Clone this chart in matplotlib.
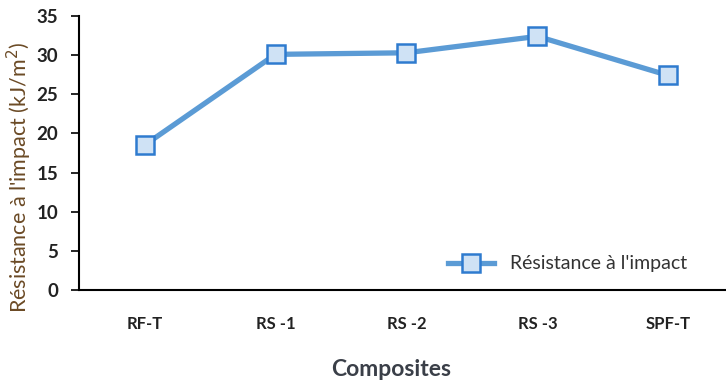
import matplotlib
matplotlib.use('Agg')
import matplotlib.pyplot as plt

composites = ['RF-T', 'RS -1', 'RS -2', 'RS -3', 'SPF-T']
impact = [18.5, 30.1, 30.3, 32.4, 27.4]
yticks = [0, 5, 10, 15, 20, 25, 30, 35]

plt.rcParams['font.family'] = ['Lato', 'DejaVu Sans']

fig = plt.figure(figsize=(7.26, 3.89), dpi=100)
ax = fig.add_axes([79 / 726, 99 / 389, 655 / 726, 274 / 389])

x = range(len(composites))
ax.plot(x, impact, color='#5b9bd5', linewidth=3.8, marker='s', markersize=12.5,
        markerfacecolor='#cfe2f5', markeredgecolor='#2e7bcf', markeredgewidth=1.8,
        label="Résistance à l'impact")

ax.set_xlim(-0.5, len(composites) - 0.5)
ax.set_ylim(0, 35)
ax.set_yticks(yticks)
ax.set_xticks(list(x))
ax.set_xticklabels(composites, fontsize=12, color='#222222')
ax.tick_params(axis='x', length=0, pad=19)
ax.tick_params(axis='y', length=6, width=1.2, direction='out', labelsize=13.5,
               labelcolor='#222222', pad=9)
for lbl in ax.get_yticklabels():
    lbl.set_fontweight('bold')
for lbl in ax.get_xticklabels():
    lbl.set_fontweight('bold')

ax.spines['top'].set_visible(False)
ax.spines['right'].set_visible(False)
ax.spines['left'].set_linewidth(1.5)
ax.spines['bottom'].set_linewidth(1.5)

ax.set_ylabel("Résistance à l'impact (kJ/m$^2$)", fontsize=15.5, color='#6b4a25')
ax.yaxis.set_label_coords(-0.068, 0.41)
ax.set_xlabel('Composites', fontsize=16.5, color='#3a3f48', fontweight='bold')
ax.xaxis.set_label_coords(0.476, -0.25)

ax.legend(loc='lower right', bbox_to_anchor=(0.955, 0.0), frameon=False,
          fontsize=14, handlelength=2.4, labelcolor='#333333')

fig.savefig('out.png', dpi=100)
